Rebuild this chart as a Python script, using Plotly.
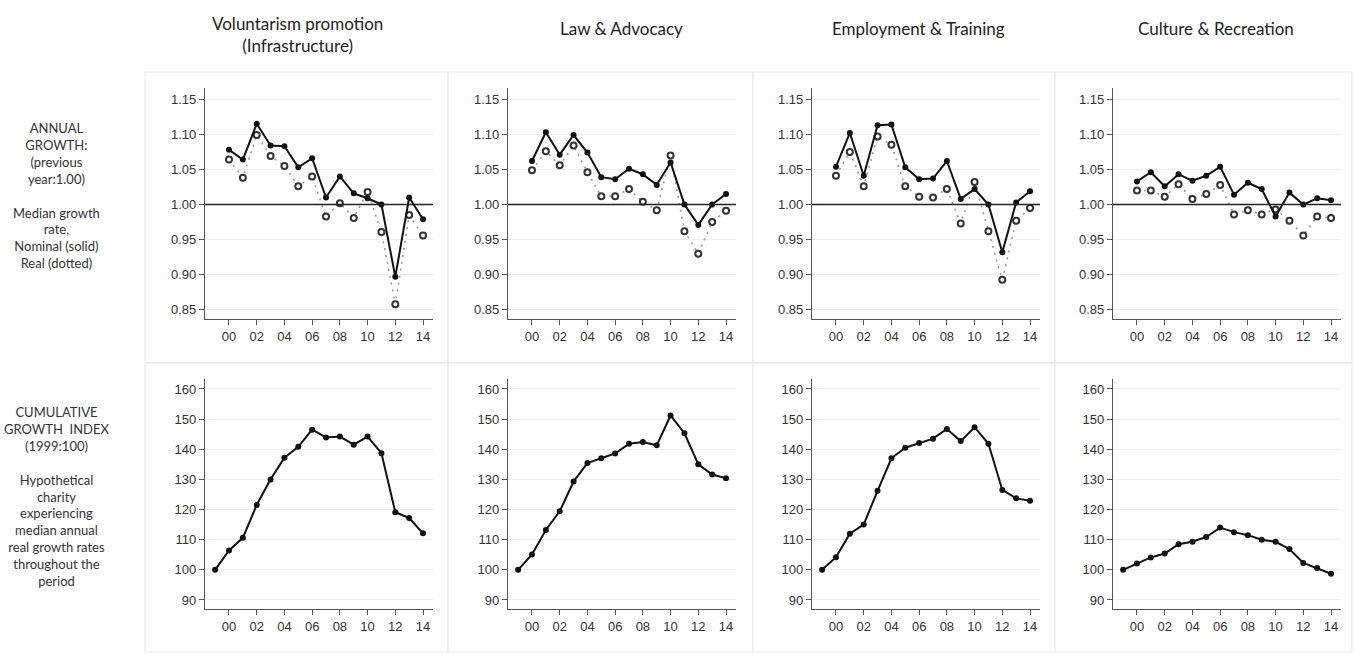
"""Annual growth and cumulative growth index by charity sector."""

import plotly.graph_objects as go

W, H = 1355, 656

years_annual = list(range(2000, 2015))
years_index = list(range(1999, 2015))

sector_titles = [
    "Voluntarism promotion<br>(Infrastructure)",
    "Law & Advocacy",
    "Employment & Training",
    "Culture & Recreation",
]

# median annual growth, nominal (solid) and real (dotted)
nominal_voluntarism = [1.078, 1.064, 1.115, 1.084, 1.083, 1.053, 1.066, 1.010, 1.040, 1.016, 1.009, 1.000, 0.897, 1.010, 0.979]
real_voluntarism = [1.064, 1.038, 1.099, 1.069, 1.055, 1.026, 1.040, 0.983, 1.002, 0.981, 1.018, 0.961, 0.858, 0.985, 0.956]
nominal_law = [1.062, 1.103, 1.071, 1.099, 1.074, 1.039, 1.036, 1.051, 1.043, 1.028, 1.060, 1.000, 0.971, 1.000, 1.015]
real_law = [1.049, 1.076, 1.056, 1.084, 1.046, 1.012, 1.012, 1.022, 1.004, 0.992, 1.070, 0.962, 0.930, 0.975, 0.991]
nominal_employment = [1.054, 1.102, 1.041, 1.113, 1.114, 1.053, 1.036, 1.037, 1.062, 1.008, 1.022, 1.000, 0.932, 1.003, 1.019]
real_employment = [1.041, 1.075, 1.026, 1.097, 1.085, 1.026, 1.011, 1.010, 1.022, 0.973, 1.032, 0.962, 0.893, 0.977, 0.995]
nominal_culture = [1.033, 1.046, 1.026, 1.043, 1.034, 1.041, 1.054, 1.014, 1.031, 1.022, 0.983, 1.017, 1.000, 1.009, 1.006]
real_culture = [1.020, 1.020, 1.011, 1.029, 1.008, 1.015, 1.028, 0.986, 0.992, 0.986, 0.993, 0.977, 0.956, 0.983, 0.981]

# cumulative real growth index, 1999 = 100
index_voluntarism = [100, 106.4, 110.6, 121.5, 130.0, 137.2, 140.8, 146.5, 143.9, 144.2, 141.5, 144.2, 138.7, 119.1, 117.2, 112.1]
index_law = [100, 105.1, 113.2, 119.4, 129.3, 135.4, 137.0, 138.6, 141.8, 142.4, 141.3, 151.2, 145.3, 135.0, 131.6, 130.4]
index_employment = [100, 104.2, 112.0, 115.0, 126.2, 137.0, 140.5, 142.1, 143.5, 146.7, 142.7, 147.3, 141.8, 126.5, 123.7, 122.9]
index_culture = [100, 102.1, 104.1, 105.4, 108.5, 109.3, 110.9, 114.0, 112.5, 111.5, 110.0, 109.3, 106.9, 102.3, 100.6, 98.7]

x_tickvals = list(range(2000, 2015, 2))
x_ticktext = ["00", "02", "04", "06", "08", "10", "12", "14"]
growth_ticks = [0.85, 0.90, 0.95, 1.00, 1.05, 1.10, 1.15]
index_ticks = [90, 100, 110, 120, 130, 140, 150, 160]

row_label_top = ("ANNUAL<br>GROWTH:<br>(previous<br>year:1.00)<br><br>"
                 "Median growth<br>rate,<br>Nominal (solid)<br>Real (dotted)")
row_label_bottom = ("CUMULATIVE<br>GROWTH  INDEX<br>(1999:100)<br><br>"
                    "Hypothetical<br>charity<br>experiencing<br>median annual<br>"
                    "real growth rates<br>throughout the<br>period")

panels = [
    (nominal_voluntarism, real_voluntarism, index_voluntarism),
    (nominal_law, real_law, index_law),
    (nominal_employment, real_employment, index_employment),
    (nominal_culture, real_culture, index_culture),
]

# layout in pixels
axis_left = [205, 508, 812, 1113]
plot_w = 228
box_edges = [145, 448, 753, 1055, 1352]
top_plot = (88, 319)
bottom_plot = (379, 609)
title_x = [297, 621, 918, 1216]
title_y = [34, 28, 28, 28]

TICK_FONT = dict(family="Liberation Sans, Arial", size=13, color="#333")
LABEL_FONT = dict(family="Lato", size=13, color="#333")
TITLE_FONT = dict(family="Lato", size=17, color="#222")


def px_x(v):
    return v / W


def px_y(v):
    return 1 - v / H


fig = go.Figure()
layout = {}

for i, (nominal, real, index) in enumerate(panels):
    for row, (py0, py1) in enumerate([top_plot, bottom_plot]):
        n = i * 2 + row + 1
        xa = "x" if n == 1 else f"x{n}"
        ya = "y" if n == 1 else f"y{n}"
        layout["xaxis" if n == 1 else f"xaxis{n}"] = dict(
            domain=[px_x(axis_left[i]), px_x(axis_left[i] + plot_w)],
            anchor=ya, range=[1998.27, 2014.72],
            tickvals=x_tickvals, ticktext=x_ticktext,
            ticks="outside", ticklen=5, tickcolor="#555", tickwidth=1,
            showline=True, linecolor="#555", linewidth=1.2,
            showgrid=False, zeroline=False, tickfont=TICK_FONT,
        )
        if row == 0:
            yrange, yticks, fmt = [0.837, 1.166], growth_ticks, ".2f"
        else:
            yrange, yticks, fmt = [87.0, 163.3], index_ticks, "d"
        layout["yaxis" if n == 1 else f"yaxis{n}"] = dict(
            domain=[px_y(py1), px_y(py0)],
            anchor=xa, range=yrange, tickvals=yticks, tickformat=fmt,
            ticks="outside", ticklen=5, tickcolor="#555", tickwidth=1,
            showline=True, linecolor="#555", linewidth=1.2,
            showgrid=True, gridcolor="#eeeeee", gridwidth=1,
            zeroline=False, tickfont=TICK_FONT,
        )
        if row == 0:
            fig.add_shape(type="line", xref=f"{xa} domain", yref=ya,
                          x0=0, x1=1, y0=1.0, y1=1.0,
                          line=dict(color="#222", width=1.5))
            fig.add_trace(go.Scatter(
                x=years_annual, y=real, xaxis=xa, yaxis=ya, mode="lines+markers",
                line=dict(color="#999", width=1.6, dash="2px,5px"),
                marker=dict(symbol="circle", size=6, color="white",
                            line=dict(color="#333", width=2)),
                showlegend=False,
            ))
            fig.add_trace(go.Scatter(
                x=years_annual, y=nominal, xaxis=xa, yaxis=ya, mode="lines+markers",
                line=dict(color="#111", width=2),
                marker=dict(symbol="circle", size=6, color="#111"),
                showlegend=False,
            ))
        else:
            fig.add_trace(go.Scatter(
                x=years_index, y=index, xaxis=xa, yaxis=ya, mode="lines+markers",
                line=dict(color="#111", width=2),
                marker=dict(symbol="circle", size=6, color="#111"),
                showlegend=False,
            ))

# light panel frames
for i in range(4):
    for (y0, y1) in [(72, 363), (363, 652)]:
        fig.add_shape(type="rect", xref="paper", yref="paper", layer="below",
                      x0=px_x(box_edges[i]), x1=px_x(box_edges[i + 1]),
                      y0=px_y(y1), y1=px_y(y0),
                      line=dict(color="#e6e6e6", width=1), fillcolor="white")

for i, title in enumerate(sector_titles):
    fig.add_annotation(text=title, xref="paper", yref="paper",
                       x=px_x(title_x[i]), y=px_y(title_y[i]),
                       xanchor="center", yanchor="middle", showarrow=False,
                       font=TITLE_FONT, align="center")

fig.add_annotation(text=row_label_top, xref="paper", yref="paper",
                   x=px_x(56), y=px_y(195), xanchor="center", yanchor="middle",
                   showarrow=False, font=LABEL_FONT, align="center")
fig.add_annotation(text=row_label_bottom, xref="paper", yref="paper",
                   x=px_x(56), y=px_y(496), xanchor="center", yanchor="middle",
                   showarrow=False, font=LABEL_FONT, align="center")

fig.update_layout(
    width=W, height=H,
    margin=dict(l=0, r=0, t=0, b=0),
    paper_bgcolor="white", plot_bgcolor="rgba(0,0,0,0)",
    **layout,
)

# page has a default 8px body margin; drop it so pixel positions line up
fig.write_html(
    "out.html",
    config={"displayModeBar": False},
    post_script="document.body.style.margin='0';document.body.style.overflow='hidden';",
)
